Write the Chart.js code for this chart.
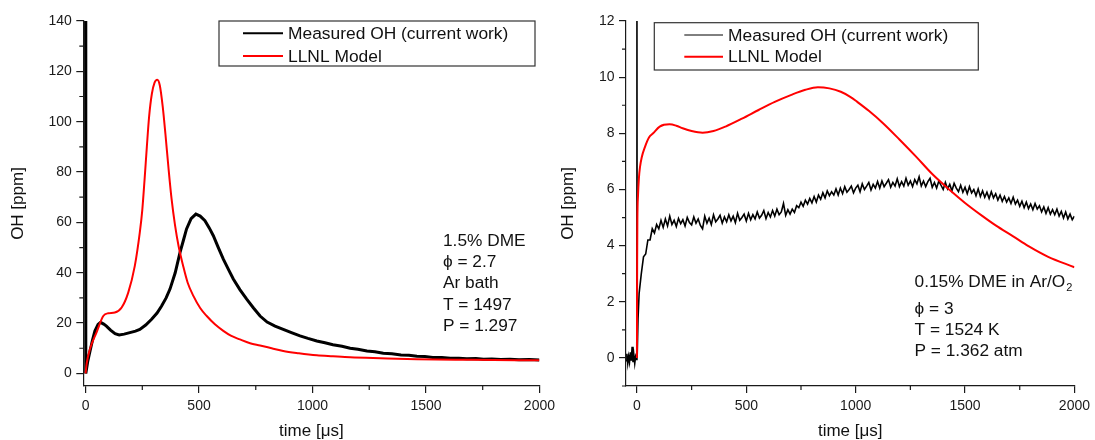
<!DOCTYPE html>
<html>
<head>
<meta charset="utf-8">
<script src="https://cdn.jsdelivr.net/npm/chart.js@4.4.1/dist/chart.umd.min.js"></script>
<style>
  html, body { margin: 0; padding: 0; background: #fff; }
  #wrap { position: relative; width: 1095px; height: 440px; overflow: hidden; }
  canvas { position: absolute; top: 0; }
  #c1 { left: 0; }
  #c2 { left: 548px; }
</style>
</head>
<body>
<div id="wrap">
  <canvas id="c1" width="560" height="440"></canvas>
  <canvas id="c2" width="547" height="440"></canvas>
</div>
<script>
// ---- datos ----
const seriesLabels = ["Measured OH (current work)", "LLNL Model"];

// panel izquierdo: 1.5% DME, Ar bath
const leftMeasT = [0, 1, 10, 20, 30, 41, 55, 66, 80, 92, 110, 130, 148, 170, 195, 220, 239, 265, 291, 315, 335, 355, 372, 395, 416, 430, 445, 465, 486, 505, 526, 545, 563, 585, 607, 630, 651, 680, 710, 740, 769, 800, 835, 871, 910, 945, 980, 1019, 1055, 1090, 1130, 1166, 1200, 1240, 1275, 1312, 1350, 1390, 1425, 1460, 1495, 1530, 1570, 1607, 1645, 1680, 1720, 1754, 1790, 1830, 1870, 1910, 1955, 2000];
const leftMeasV = [160, 0, 5, 9, 13, 16.8, 19.5, 20.3, 19.6, 18.8, 17.2, 15.8, 15.3, 15.6, 16.2, 16.8, 17.5, 19.2, 21.5, 24, 26.8, 30, 33.5, 40, 48, 52.5, 57.4, 61.5, 63.3, 62.5, 60.7, 57.8, 54.7, 50, 45.4, 41.2, 37.5, 33.3, 29.5, 26, 22.8, 20.4, 18.8, 17.5, 16.1, 14.9, 13.9, 12.9, 12.2, 11.4, 10.8, 10, 9.6, 8.9, 8.6, 8, 7.8, 7.3, 7.2, 6.8, 6.7, 6.3, 6.3, 6.0, 6.0, 5.8, 5.9, 5.6, 5.7, 5.5, 5.6, 5.4, 5.5, 5.3];
const leftModelT = [0, 5, 19, 48, 78, 100, 129, 159, 188, 217, 239, 250, 260, 270, 280, 292, 304, 316, 327, 340, 352, 365, 379, 394, 410, 430, 450, 475, 505, 534, 570, 607, 640, 680, 725, 769, 820, 871, 940, 1019, 1090, 1166, 1300, 1460, 1700, 2000];
const leftModelV = [0, 4, 9.6, 16.2, 22.8, 23.9, 24.2, 26.2, 32.1, 42.7, 56, 65, 77, 90, 102, 111, 115.5, 116.7, 114.5, 106, 95, 82, 69.3, 59, 50.5, 42.7, 36, 30.8, 26, 22.8, 19.5, 16.9, 15, 13.5, 12, 11.1, 10, 8.9, 8, 7.2, 6.8, 6.4, 6.0, 5.6, 5.4, 5.2];

// panel derecho: 0.15% DME in Ar/O2
const rightMeasT = [-50, -46, -42, -38, -34, -30, -26, -22, -18, -14, -10, -6, -2, 0, 1, 5,
  10, 20, 30, 40, 50, 60, 70, 80, 90, 100,
  110, 120, 130, 140, 150, 160, 170, 180, 190, 200,
  210, 220, 230, 240, 250, 260, 270, 280, 290, 300,
  310, 320, 330, 340, 350, 360, 370, 380, 390, 400,
  410, 420, 430, 440, 450, 460, 470, 480, 490, 500,
  510, 520, 530, 540, 550, 560, 570, 580, 590, 600,
  610, 620, 630, 640, 650, 660, 670, 680, 690, 700,
  710, 720, 730, 740, 750, 760, 770, 780, 790, 800,
  810, 820, 830, 840, 850, 860, 870, 880, 890, 900,
  910, 920, 930, 940, 950, 960, 970, 980, 990, 1000,
  1010, 1020, 1030, 1040, 1050, 1060, 1070, 1080, 1090, 1100,
  1110, 1120, 1130, 1140, 1150, 1160, 1170, 1180, 1190, 1200,
  1210, 1220, 1230, 1240, 1250, 1260, 1270, 1280, 1290, 1300,
  1310, 1320, 1330, 1340, 1350, 1360, 1370, 1380, 1390, 1400,
  1410, 1420, 1430, 1440, 1450, 1460, 1470, 1480, 1490, 1500,
  1510, 1520, 1530, 1540, 1550, 1560, 1570, 1580, 1590, 1600,
  1610, 1620, 1630, 1640, 1650, 1660, 1670, 1680, 1690, 1700,
  1710, 1720, 1730, 1740, 1750, 1760, 1770, 1780, 1790, 1800,
  1810, 1820, 1830, 1840, 1850, 1860, 1870, 1880, 1890, 1900,
  1910, 1920, 1930, 1940, 1950, 1960, 1970, 1980, 1990, 2000];
const rightMeasV = [-0.1, 0.15, -0.2, 0.05, -0.15, 0.2, -0.1, 0.4, -0.15, 0.1, -0.2, 0.05, -0.05, 13, 0, 1.4,
  2.3, 3.0, 3.6, 3.7, 4.2, 4.2, 4.6, 4.45, 4.75, 4.6,
  4.9, 4.65, 4.95, 4.7, 5.05, 4.75, 4.9, 4.68, 4.97, 4.78,
  4.92, 4.7, 5.0, 4.82, 4.74, 5.02, 4.8, 4.95, 4.72, 4.6,
  5.05, 4.8, 4.98, 4.75, 5.1, 4.85, 4.95, 5.08, 4.8, 5.02,
  4.85, 5.1, 4.88, 5.05, 4.82, 5.15, 4.9, 5.0, 5.12, 4.88,
  5.15, 4.92, 5.1, 4.95, 5.2, 4.98, 5.08, 5.25, 4.96, 5.18,
  5.02, 5.25, 5.05, 5.3, 5.1, 5.2, 5.5, 5.08, 5.28, 5.12,
  5.3, 5.18, 5.42, 5.35, 5.55, 5.4, 5.62, 5.48, 5.68, 5.52,
  5.75, 5.55, 5.8, 5.65, 5.88, 5.7, 5.95, 5.78, 5.92, 5.8,
  6.02, 5.8, 6.05, 5.85, 6.1, 5.9, 6.0, 6.12, 5.88, 6.05,
  6.15, 5.92, 6.2, 6.0, 6.12, 6.25, 5.98, 6.18, 6.05, 6.28,
  6.05, 6.3, 6.1, 6.22, 6.35, 6.08, 6.25, 6.12, 6.38, 6.1,
  6.28, 6.12, 6.4, 6.15, 6.3, 6.1, 6.35, 6.2, 6.45, 6.12,
  6.3, 6.1, 6.28, 6.4, 6.08, 6.25, 6.05, 6.3, 6.15, 6.0,
  6.25, 6.02, 6.18, 5.95, 6.22, 6.05, 5.92, 6.15, 5.9, 6.08,
  5.85, 6.1, 5.88, 6.0, 5.78, 6.02, 5.75, 5.95, 5.72, 5.9,
  5.68, 5.92, 5.7, 5.85, 5.62, 5.8, 5.58, 5.75, 5.55, 5.7,
  5.5, 5.72, 5.48, 5.62, 5.4, 5.58, 5.35, 5.55, 5.32, 5.48,
  5.28, 5.5, 5.3, 5.42, 5.2, 5.38, 5.15, 5.35, 5.12, 5.28,
  5.1, 5.3, 5.05, 5.22, 4.98, 5.2, 4.95, 5.12, 4.92, 5.05];
const rightModelT = [0, 1, 2, 5, 9, 14, 22, 36, 55, 74, 104, 149, 180, 209, 250, 300, 350, 405, 480, 556, 630, 706, 770, 827, 880, 932, 975, 1007, 1060, 1125, 1200, 1276, 1350, 1430, 1500, 1580, 1640, 1720, 1790, 1880, 2000];
const rightModelV = [0, 3.5, 4.9, 5.8, 6.4, 6.8, 7.15, 7.5, 7.85, 8.0, 8.24, 8.32, 8.27, 8.18, 8.08, 8.02, 8.08, 8.24, 8.52, 8.83, 9.12, 9.37, 9.55, 9.64, 9.6, 9.48, 9.3, 9.12, 8.8, 8.36, 7.78, 7.17, 6.55, 5.98, 5.52, 5.05, 4.72, 4.33, 3.98, 3.6, 3.23];

// ejes
const xTicks = [0, 500, 1000, 1500, 2000];
const xMinor = [250, 750, 1250, 1750];
const leftYTicks = [0, 20, 40, 60, 80, 100, 120, 140];
const leftYMinor = [10, 30, 50, 70, 90, 110, 130];
const rightYTicks = [0, 2, 4, 6, 8, 10, 12];
const rightYMinor = [-1, 1, 3, 5, 7, 9, 11];

const leftNotes = ["1.5% DME", "\u03D5 = 2.7", "Ar bath", "T = 1497", "P = 1.297"];
const rightNotes = ["0.15% DME in Ar/O", "\u03D5 = 3", "T = 1524 K", "P = 1.362 atm"];

// ---- estilo ----
const FAMILY = "'Liberation Sans', Arial, sans-serif";
const INK = "#1a1a1a";

function pts(t, v) {
  return t.map((x, i) => ({ x: x, y: v[i] }));
}

// marcas menores, leyenda con recuadro y textos
const figuraPlugin = {
  id: "figura",
  afterDraw(chart, args, o) {
    const ctx = chart.ctx;
    const xs = chart.scales.x, ys = chart.scales.y;
    ctx.save();
    ctx.strokeStyle = INK;
    ctx.lineWidth = 1.2;
    ctx.beginPath();
    o.xMinor.forEach(v => {
      const px = xs.getPixelForValue(v);
      ctx.moveTo(px, xs.top);
      ctx.lineTo(px, xs.top + 4);
    });
    o.yMinor.forEach(v => {
      const py = ys.getPixelForValue(v);
      ctx.moveTo(ys.right - 4, py);
      ctx.lineTo(ys.right, py);
    });
    ctx.stroke();

    // leyenda
    const b = o.box;
    ctx.strokeStyle = "#333";
    ctx.lineWidth = 1.2;
    ctx.strokeRect(b.x1, b.y1, b.x2 - b.x1, b.y2 - b.y1);
    ctx.font = "17.4px " + FAMILY;
    ctx.textBaseline = "middle";
    ctx.textAlign = "left";
    chart.data.datasets.forEach((ds, i) => {
      const y = b.y1 + b.rows[i];
      ctx.strokeStyle = ds.borderColor;
      ctx.lineWidth = o.legendWidths[i];
      ctx.beginPath();
      ctx.moveTo(b.x1 + b.lineStart, y);
      ctx.lineTo(b.x1 + b.lineStart + b.lineLen, y);
      ctx.stroke();
      ctx.fillStyle = "#111";
      ctx.fillText(ds.label, b.x1 + b.lineStart + b.lineLen + 5, y + 1);
    });

    // anotaciones
    ctx.fillStyle = "#111";
    const nx = xs.getPixelForValue(o.notesAt[0]);
    let ny = ys.getPixelForValue(o.notesAt[1]);
    o.notes.forEach((txt, i) => {
      ctx.font = "17.3px " + FAMILY;
      ctx.fillText(txt, nx, ny + 1);
      if (o.subscript && i === 0) {
        const w = ctx.measureText(txt).width;
        ctx.font = "11px " + FAMILY;
        ctx.fillText(o.subscript, nx + w + 1, ny + 7);
      }
      ny += (i === 0 && o.subscript) ? 26.5 : o.lineGap;
    });
    ctx.restore();
  }
};

function hacerGrafica(canvasId, cfg) {
  const tickFont = { family: FAMILY, size: 14 };
  const titleFont = { family: FAMILY, size: 17, lineHeight: 1 };
  return new Chart(document.getElementById(canvasId), {
    type: "line",
    data: {
      datasets: [
        {
          label: seriesLabels[0],
          data: cfg.meas,
          borderColor: "#000000",
          borderWidth: cfg.measWidth,
          pointRadius: 0,
          tension: 0,
          order: 1
        },
        {
          label: seriesLabels[1],
          data: cfg.model,
          borderColor: "#ff0000",
          borderWidth: 2,
          pointRadius: 0,
          cubicInterpolationMode: "monotone",
          order: 0
        }
      ]
    },
    options: {
      responsive: false,
      animation: false,
      layout: { padding: { left: 0, top: 21, right: cfg.padRight, bottom: 0 } },
      plugins: {
        legend: { display: false },
        tooltip: { enabled: false },
        figura: cfg.figura
      },
      scales: {
        x: {
          type: "linear",
          min: cfg.xMin,
          max: 2000,
          afterBuildTicks: s => { s.ticks = xTicks.map(v => ({ value: v })); },
          afterFit: s => { s.height = 54; },
          ticks: { font: tickFont, color: INK, padding: 5, maxRotation: 0, callback: v => String(v) },
          grid: { drawOnChartArea: false, drawTicks: true, tickLength: 7, color: INK, lineWidth: 1.2 },
          border: { display: true, color: INK, width: 1.2 },
          title: { display: true, text: "time [\u03BCs]", font: titleFont, color: "#111", padding: 0 }
        },
        y: {
          type: "linear",
          min: cfg.yMin,
          max: cfg.yMax,
          afterBuildTicks: s => { s.ticks = cfg.yTicks.map(v => ({ value: v })); },
          afterFit: s => { s.width = cfg.yWidth; },
          ticks: { font: tickFont, color: INK, padding: 4.5, callback: v => String(v) },
          grid: { drawOnChartArea: false, drawTicks: true, tickLength: 7, color: INK, lineWidth: 1.2 },
          border: { display: true, color: INK, width: 1.2 },
          title: { display: true, text: "OH [ppm]", font: titleFont, color: "#111", padding: { top: cfg.yTitlePad, bottom: 0 } }
        }
      }
    },
    plugins: [figuraPlugin]
  });
}

hacerGrafica("c1", {
  meas: pts(leftMeasT, leftMeasV),
  model: pts(leftModelT, leftModelV),
  measWidth: 3,
  xMin: -10,
  yMin: -5,
  yMax: 140,
  yTicks: leftYTicks,
  yWidth: 83.3,
  yTitlePad: 10,
  padRight: 20,
  figura: {
    xMinor: xMinor,
    yMinor: leftYMinor,
    box: { x1: 219, y1: 21, x2: 535, y2: 66, rows: [12.3, 35], lineStart: 24, lineLen: 40 },
    legendWidths: [2, 2],
    notes: leftNotes,
    notesAt: [1575, 53],
    lineGap: 21.3
  }
});

hacerGrafica("c2", {
  meas: pts(rightMeasT, rightMeasV),
  model: pts(rightModelT, rightModelV),
  measWidth: 1.6,
  xMin: -50,
  yMin: -1,
  yMax: 12,
  yTicks: rightYTicks,
  yWidth: 78,
  yTitlePad: 11.5,
  padRight: 15,
  figura: {
    xMinor: xMinor,
    yMinor: rightYMinor,
    box: { x1: 106.3, y1: 22.7, x2: 430.3, y2: 70, rows: [12.3, 34], lineStart: 30, lineLen: 38.7 },
    legendWidths: [1, 2],
    notes: rightNotes,
    subscript: "2",
    notesAt: [1269, 2.73],
    lineGap: 21
  }
});
</script>
</body>
</html>
